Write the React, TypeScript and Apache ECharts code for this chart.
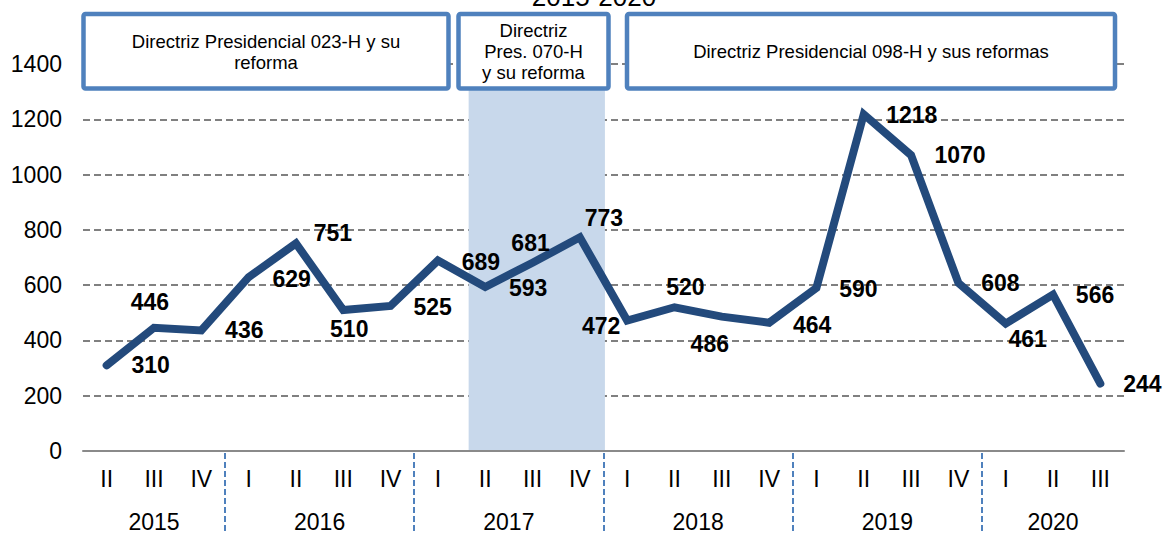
import React, { useEffect, useRef } from "react";
import * as echarts from "echarts";

const years = ["2015", "2016", "2017", "2018", "2019", "2020"];
const yearSpans = [3, 4, 4, 4, 4, 3];
const quarterLabels = [
  "II", "III", "IV",
  "I", "II", "III", "IV",
  "I", "II", "III", "IV",
  "I", "II", "III", "IV",
  "I", "II", "III", "IV",
  "I", "II", "III",
];
const values = [
  310, 446, 436, 629, 751, 510, 525, 689, 593, 681, 773, 472, 520, 486, 464, 590,
  1218, 1070, 608, 461, 566, 244,
];
const yTicks = [0, 200, 400, 600, 800, 1000, 1200, 1400];
const boxTexts = [
  "Directriz Presidencial 023-H y su\nreforma",
  "Directriz\nPres. 070-H\ny su reforma",
  "Directriz Presidencial 098-H y sus reformas",
];
const titleText = "2015-2020";

// label placement (style, not data)
const labelOffsets: [number, number][] = [
  [44, 0], [-4, -26], [43, 0], [43, 2], [37, -10], [6, 19], [42, 1], [43, 1],
  [43, 1], [-2, -20], [24, -19], [-26, 5], [11, -20], [-12, 27], [43, 2], [42, 1],
  [48, 1], [49, 0], [42, 0], [22, 15], [42, 0], [42, 0],
];

const FONT = '"Liberation Sans", Arial, Helvetica, sans-serif';

export default function App() {
  const ref = useRef<HTMLDivElement>(null);
  useEffect(() => {
    if (!ref.current) return;
    const chart = echarts.init(ref.current, null, { renderer: "svg" });

    const categories: string[] = [];
    let idx = 0;
    years.forEach((y, i) => {
      for (let k = 0; k < yearSpans[i]; k++) {
        categories.push(y + " " + quarterLabels[idx]);
        idx++;
      }
    });
    const yearCenters: number[] = [];
    const separators: number[] = [];
    const yearByCenter: Record<string, string> = {};
    let acc = 0;
    yearSpans.forEach((s, i) => {
      const c = acc + s / 2;
      yearCenters.push(c);
      yearByCenter[String(c)] = years[i];
      acc += s;
      if (i < yearSpans.length - 1) separators.push(acc);
    });
    const total = acc;

    const boxes = [
      { x: 83.5, w: 365 },
      { x: 458.5, w: 150 },
      { x: 627, w: 488 },
    ];
    const graphics: any[] = [];
    boxes.forEach((b, i) => {
      graphics.push({
        type: "rect",
        z: 10,
        shape: { x: b.x, y: 14, width: b.w, height: 74.5, r: 2 },
        style: { fill: "#ffffff", stroke: "#4f81bd", lineWidth: 4.5 },
      });
      graphics.push({
        type: "text",
        z: 11,
        x: b.x + b.w / 2,
        y: 51.5,
        style: {
          text: boxTexts[i],
          fill: "#000",
          fontSize: 18.5,
          fontFamily: FONT,
          lineHeight: 21,
          align: "center",
          verticalAlign: "middle",
        },
      });
    });
    graphics.push({
      type: "text",
      z: 11,
      x: 594,
      y: -3,
      style: {
        text: titleText,
        fill: "#000",
        fontSize: 26,
        fontFamily: FONT,
        align: "center",
        verticalAlign: "middle",
      },
    });

    chart.setOption({
      animation: false,
      backgroundColor: "#ffffff",
      grid: {
        left: 83,
        right: 39,
        top: 64,
        bottom: 82,
        containLabel: false,
        outerBoundsMode: "none",
      },
      xAxis: [
        {
          type: "category",
          data: categories,
          boundaryGap: true,
          z: 1,
          axisLine: { show: true, lineStyle: { color: "#8a8a8a", width: 2 } },
          axisTick: { show: false },
          splitLine: { show: false },
          axisLabel: {
            interval: 0,
            margin: 16,
            color: "#000",
            fontSize: 23,
            fontFamily: FONT,
            formatter: (v: string) => v.split(" ")[1],
          },
        },
        {
          type: "value",
          min: 0,
          max: total,
          position: "bottom",
          offset: 2,
          z: 1,
          axisLine: { show: false },
          splitLine: { show: false },
          axisTick: {
            show: true,
            customValues: separators,
            length: 80,
            lineStyle: { color: "#4f81bd", width: 2, type: [6, 3] },
          },
          axisLabel: {
            show: true,
            customValues: yearCenters,
            margin: 57,
            color: "#000",
            fontSize: 23,
            fontFamily: FONT,
            formatter: (v: number) => yearByCenter[String(v)] ?? "",
          },
        },
      ],
      yAxis: {
        type: "value",
        min: 0,
        max: yTicks[yTicks.length - 1],
        interval: 200,
        z: 1,
        axisLine: { show: false },
        axisTick: { show: false },
        axisLabel: {
          margin: 21,
          color: "#000",
          fontSize: 23,
          fontFamily: FONT,
          formatter: (v: number) => String(v),
        },
        splitLine: {
          show: true,
          lineStyle: { color: "#808080", width: 1.8, type: [7, 4] },
        },
      },
      series: [
        {
          type: "line",
          xAxisIndex: 1,
          yAxisIndex: 0,
          z: 0,
          data: [[0, 0]],
          symbol: "none",
          showSymbol: false,
          silent: true,
          lineStyle: { width: 0, opacity: 0 },
          markArea: {
            silent: true,
            itemStyle: { color: "#c8d8eb" },
            data: [[{ xAxis: 8.15, yAxis: 0 }, { xAxis: 11.03, yAxis: 1400 }]],
          },
        },
        {
          type: "line",
          xAxisIndex: 0,
          yAxisIndex: 0,
          z: 3,
          data: values.map((v, i) => ({
            value: v,
            label: { offset: labelOffsets[i] },
          })),
          symbol: "circle",
          symbolSize: 1,
          showSymbol: true,
          itemStyle: { color: "#234a7c" },
          lineStyle: { color: "#234a7c", width: 8, cap: "round", join: "miter" },
          label: {
            show: true,
            position: "inside",
            color: "#000",
            fontSize: 23,
            fontWeight: "bold",
            fontFamily: FONT,
          },
        },
      ],
      graphic: graphics,
    });
    return () => chart.dispose();
  }, []);
  return (
    <div
      ref={ref}
      style={{ position: "fixed", left: 0, top: 0, width: 1163, height: 533 }}
    />
  );
}
